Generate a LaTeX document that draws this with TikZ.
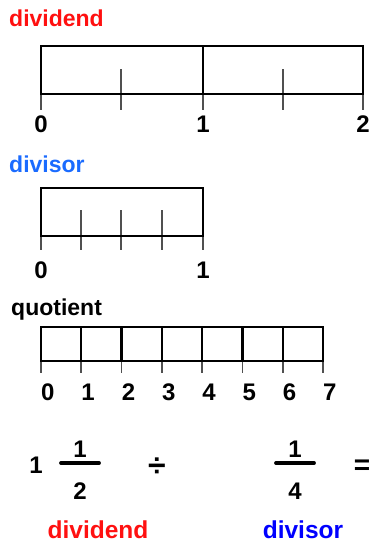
\documentclass[tikz,border=0pt]{standalone}
\usepackage{fontspec}
\setmainfont{Liberation Sans}
\usetikzlibrary{positioning}
\definecolor{dvdred}{HTML}{FF1010}
\definecolor{dvsblue}{HTML}{1A6BFF}
\definecolor{deepblue}{HTML}{0000FF}
\definecolor{tickgray}{HTML}{505050}

\begin{document}
\begin{tikzpicture}[x=1pt,y=-1pt,
  lbl/.style={font=\fontsize{23}{27}\selectfont\bfseries, inner sep=0pt, anchor=base},
  digit/.style={lbl, font=\fontsize{24}{28}\selectfont\bfseries},
  barline/.style={draw=black, line width=2.3pt},
  tickline/.style={draw=tickgray, line width=1.8pt}]
\useasboundingbox (0,0) rectangle (374,543);

% dividend strip
\node[lbl, text=dvdred, anchor=base west] (dvdtitle) at (9,27) {dividend};
\foreach \x in {121,283} \draw[tickline] (\x,69) -- (\x,110);
\foreach \x in {41,203,363} \draw[tickline] (\x,94) -- (\x,110);
\draw[barline] (41,46) rectangle (363,94);
\draw[barline] (203,46) -- (203,94);
\foreach \x/\n in {41/0,203/1,363/2} \node[digit] (dvd\n) at (\x,132) {\n};

% divisor strip
\node[lbl, text=dvsblue, anchor=base west] (dvstitle) at (9,172) {divisor};
\foreach \x in {81,121,162} \draw[tickline] (\x,210) -- (\x,250);
\foreach \x in {41,203} \draw[tickline] (\x,236) -- (\x,250);
\draw[barline] (41,188) rectangle (203,236);
\foreach \x/\n in {41/0,203/1} \node[digit] (dvs\n) at (\x,278) {\n};

% quotient strip
\node[lbl, anchor=base west] (quotitle) at (11,315) {quotient};
\foreach \i in {0,...,7} {
  \draw[tickline] ({41+40.29*\i},361) -- ({41+40.29*\i},373);
  \node[digit, anchor=base west] (quo\i) at ({41+40.29*\i},400) {\i};
}
\draw[barline] (41,327) rectangle (323,361);
\foreach \i in {1,...,6} \draw[barline] ({41+40.29*\i},327) -- ({41+40.29*\i},361);

% equation
\node[digit] (whole) at (36,473) {1};
\node[digit] (numA) at (80,457) {1};
\node[digit] (denA) at (80,499) {2};
\coordinate (fracAl) at (61,463);
\coordinate (fracAr) at (99,463);
\draw[line width=3.8pt, line cap=round] (fracAl) -- (fracAr);
\node[lbl, anchor=center, font=\fontsize{32}{36}\selectfont\bfseries] (divsign) at (157,467) {÷};
\node[digit] (numB) at (295,457) {1};
\node[digit] (denB) at (295,499) {4};
\coordinate (fracBl) at (276,463);
\coordinate (fracBr) at (314,463);
\draw[line width=3.8pt, line cap=round] (fracBl) -- (fracBr);
\node[lbl, anchor=center, font=\fontsize{28}{32}\selectfont\bfseries] (eqsign) at (362,467) {=};
\node[lbl, text=dvdred, font=\fontsize{24.5}{28}\selectfont\bfseries] (dvdname) at (98,538) {dividend};
\node[lbl, text=deepblue, font=\fontsize{24.5}{28}\selectfont\bfseries] (dvsname) at (303,538) {divisor};
\end{tikzpicture}
\end{document}
